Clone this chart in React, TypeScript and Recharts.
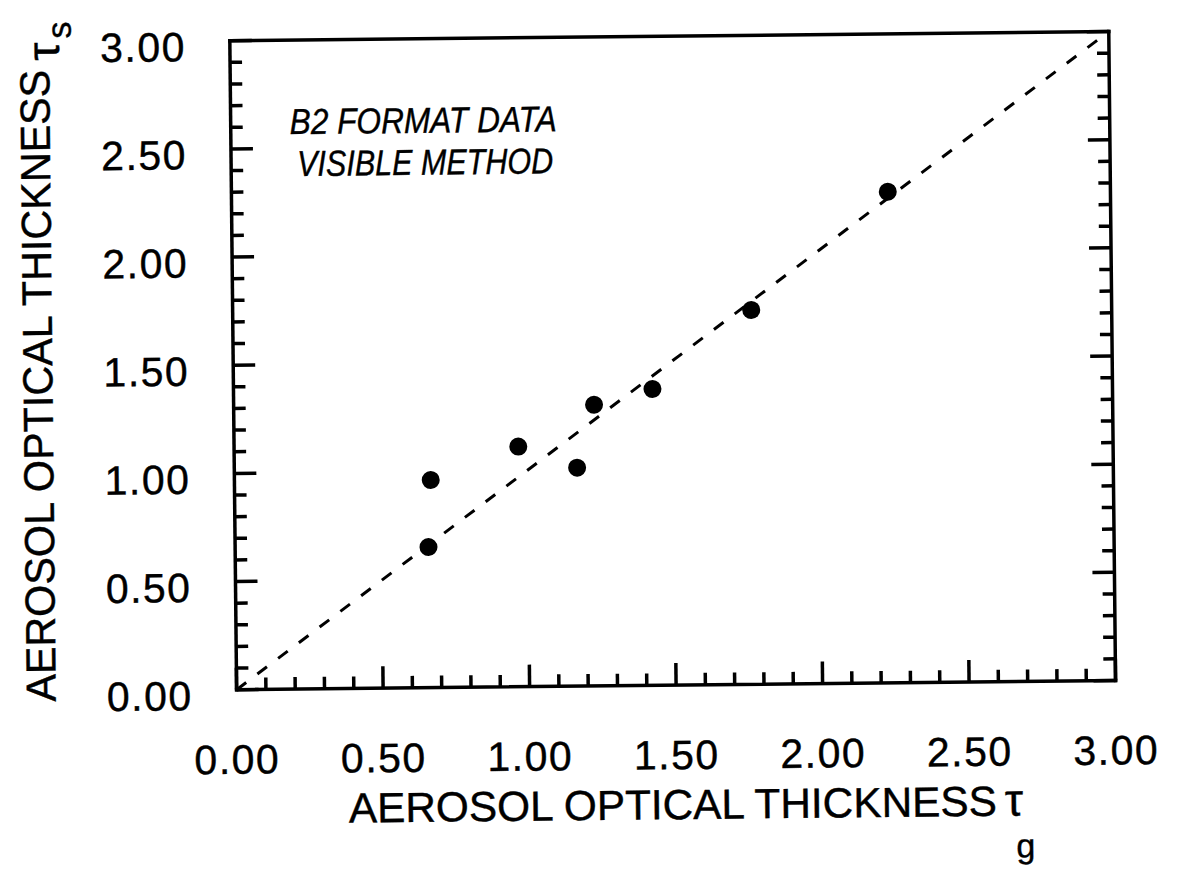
import React from 'react';
import { ScatterChart, Scatter, XAxis, YAxis, ReferenceLine } from 'recharts';

// ---- data ----
const tauG = [0.66, 0.67, 0.97, 1.17, 1.23, 1.43, 1.77, 2.24];
const tauS = [0.65, 0.96, 1.11, 1.01, 1.30, 1.37, 1.73, 2.27];
const allTicks = [
  0, 0.1, 0.2, 0.3, 0.4, 0.5, 0.6, 0.7, 0.8, 0.9, 1.0, 1.1, 1.2, 1.3, 1.4, 1.5,
  1.6, 1.7, 1.8, 1.9, 2.0, 2.1, 2.2, 2.3, 2.4, 2.5, 2.6, 2.7, 2.8, 2.9, 3.0,
];
const majorTicks = [0, 0.5, 1.0, 1.5, 2.0, 2.5, 3.0];
const tickLabels = ['0.00', '0.50', '1.00', '1.50', '2.00', '2.50', '3.00'];
const oneToOneLine = [{ x: 0, y: 0 }, { x: 3, y: 3 }];
const annotationLines = ['B2 FORMAT DATA', 'VISIBLE METHOD'];
const axisTitle = 'AEROSOL OPTICAL THICKNESS';
const xSymbol = 'τ';
const xSub = 'g';
const ySymbol = 'τ';
const ySub = 's';

const points = tauG.map((x, i) => ({ x, y: tauS[i] }));

const FONT = '"Liberation Sans", Arial, Helvetica, sans-serif';
const MAJOR_LEN = 22;
const MINOR_LEN = 12;
const TICK_W = 3.5;

const majorIndex = (v: number) => majorTicks.findIndex((m) => Math.abs(m - v) < 1e-6);

const BottomTick = (props: any) => {
  const { x, y, payload } = props;
  const idx = majorIndex(payload.value);
  const len = idx >= 0 ? MAJOR_LEN : MINOR_LEN;
  return (
    <g>
      <line x1={x} y1={y} x2={x} y2={y - len} stroke="#000" strokeWidth={TICK_W} />
      {idx >= 0 && (
        <text x={x} y={y + 84} textAnchor="middle" fontSize={41} fontFamily={FONT} letterSpacing={1.5} fill="#000" stroke="#000" strokeWidth={0.4}>
          {tickLabels[idx]}
        </text>
      )}
    </g>
  );
};

const TopTick = (props: any) => {
  const { x, y, payload } = props;
  const idx = majorIndex(payload.value);
  const len = idx >= 0 ? MAJOR_LEN : MINOR_LEN;
  return <line x1={x} y1={y} x2={x} y2={y + len} stroke="#000" strokeWidth={TICK_W} />;
};

const LeftTick = (props: any) => {
  const { x, y, payload } = props;
  const idx = majorIndex(payload.value);
  const len = idx >= 0 ? MAJOR_LEN : MINOR_LEN;
  return (
    <g>
      <line x1={x} y1={y} x2={x + len} y2={y} stroke="#000" strokeWidth={TICK_W} />
      {idx >= 0 && (
        <text x={x - 44} y={y + 20} textAnchor="end" fontSize={41} fontFamily={FONT} letterSpacing={1.5} fill="#000" stroke="#000" strokeWidth={0.4}>
          {tickLabels[idx]}
        </text>
      )}
    </g>
  );
};

const RightTick = (props: any) => {
  const { x, y, payload } = props;
  const idx = majorIndex(payload.value);
  const len = idx >= 0 ? MAJOR_LEN : MINOR_LEN;
  return <line x1={x} y1={y} x2={x - len} y2={y} stroke="#000" strokeWidth={TICK_W} />;
};

const XTitle = () => (
  <text x={345} y={820} fontSize={42} fontFamily={FONT} fill="#000" stroke="#000" strokeWidth={0.4}>
    <tspan textLength={648} lengthAdjust="spacingAndGlyphs">{axisTitle}</tspan>
    <tspan x={1001} y={820} fontSize={46}>{xSymbol}</tspan>
    <tspan x={1012} y={862} fontSize={34}>{xSub}</tspan>
  </text>
);

const YTitle = () => (
  <text transform="rotate(-90, 53, 696)" x={53} y={696} fontSize={42} fontFamily={FONT} fill="#000" stroke="#000" strokeWidth={0.4}>
    <tspan textLength={632} lengthAdjust="spacingAndGlyphs">{axisTitle}</tspan>
    <tspan x={53 + 641} y={706} fontSize={46}>{ySymbol}</tspan>
    <tspan x={53 + 663} y={718} fontSize={34}>{ySub}</tspan>
  </text>
);

const Annotation = () => (
  <g>
    <text x={293} y={131} fontSize={36} fontStyle="italic" fontFamily={FONT} fill="#000" stroke="#000" strokeWidth={0.4} textLength={267} lengthAdjust="spacingAndGlyphs">
      {annotationLines[0]}
    </text>
    <text x={300} y={173} fontSize={36} fontStyle="italic" fontFamily={FONT} fill="#000" stroke="#000" strokeWidth={0.4} textLength={256} lengthAdjust="spacingAndGlyphs">
      {annotationLines[1]}
    </text>
  </g>
);

const Dot = (props: any) => <circle cx={props.cx} cy={props.cy} r={9} fill="#000" />;

const axisLineStyle = { stroke: '#000', strokeWidth: 3.5, strokeLinecap: 'square' as const };

export default function App() {
  return (
    <div
      style={{
        position: 'absolute',
        left: 0,
        top: 0,
        width: 1178,
        height: 877,
        background: '#fff',
        transform: 'rotate(-0.6deg)',
      }}
    >
      <ScatterChart width={1178} height={877} margin={{ top: 0, right: 0, bottom: 0, left: 0 }}>
        <XAxis
          xAxisId="b"
          type="number"
          dataKey="x"
          orientation="bottom"
          domain={[0, 3]}
          ticks={allTicks}
          interval={0}
          height={191}
          tickSize={0}
          tickMargin={0}
          tickLine={false}
          axisLine={axisLineStyle}
          tick={BottomTick}
          allowDataOverflow
          label={{ content: XTitle }}
        />
        <XAxis
          xAxisId="t"
          type="number"
          orientation="top"
          domain={[0, 3]}
          ticks={allTicks}
          interval={0}
          height={37}
          tickSize={0}
          tickMargin={0}
          tickLine={false}
          axisLine={axisLineStyle}
          tick={TopTick}
          allowDataOverflow
          label={{ content: Annotation }}
        />
        <YAxis
          yAxisId="l"
          type="number"
          dataKey="y"
          orientation="left"
          domain={[0, 3]}
          ticks={allTicks}
          interval={0}
          width={234}
          tickSize={0}
          tickMargin={0}
          tickLine={false}
          axisLine={axisLineStyle}
          tick={LeftTick}
          allowDataOverflow
          label={{ content: YTitle }}
        />
        <YAxis
          yAxisId="r"
          type="number"
          orientation="right"
          domain={[0, 3]}
          ticks={allTicks}
          interval={0}
          width={65}
          tickSize={0}
          tickMargin={0}
          tickLine={false}
          axisLine={axisLineStyle}
          tick={RightTick}
          allowDataOverflow
        />
        <ReferenceLine
          xAxisId="b"
          yAxisId="l"
          segment={oneToOneLine}
          stroke="#000"
          strokeWidth={3}
          strokeDasharray="12 14"
        />
        <Scatter
          xAxisId="b"
          yAxisId="l"
          data={points}
          shape={Dot}
          isAnimationActive={false}
        />
      </ScatterChart>
    </div>
  );
}
